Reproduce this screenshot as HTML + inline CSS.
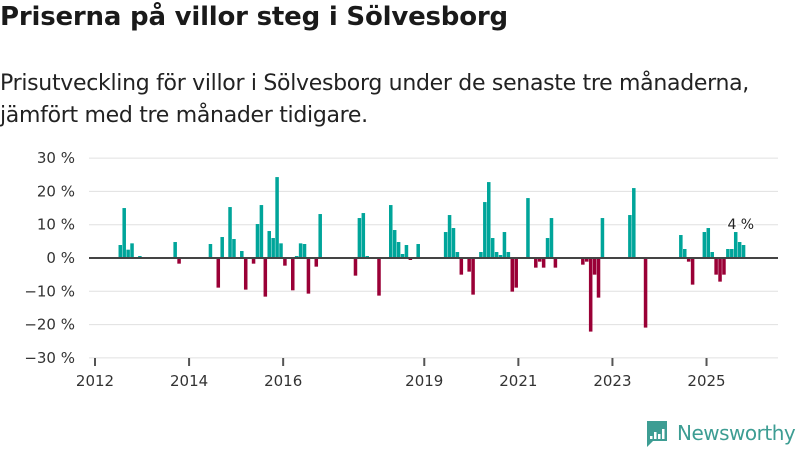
<!DOCTYPE html>
<html><head><meta charset="utf-8">
<style>
body{margin:0;width:800px;height:450px;background:#fff;font-family:"Liberation Sans","DejaVu Sans",sans-serif;overflow:hidden;position:relative}
h1{position:absolute;left:0;top:2px;margin:0;font-size:26px;font-weight:bold;color:#1a1a1a;font-family:"DejaVu Sans",sans-serif;letter-spacing:-0.2px}
.sub{position:absolute;left:0;top:68px;margin:0;font-size:22px;line-height:32px;color:#222;font-family:"DejaVu Sans",sans-serif;letter-spacing:-0.3px}
svg{position:absolute;left:0;top:0}
</style></head><body>
<h1>Priserna på villor steg i Sölvesborg</h1>
<p class="sub">Prisutveckling för villor i Sölvesborg under de senaste tre månaderna,<br>jämfört med tre månader tidigare.</p>
<svg id="chart" width="800" height="450"></svg>
<script>
const monthIdx=[6,7,8,9,11,20,21,29,31,32,34,35,37,38,40,41,42,43,44,45,46,47,48,50,51,52,53,54,56,57,66,67,68,69,72,75,76,77,78,79,80,82,89,90,91,92,93,95,96,98,99,100,101,102,103,104,105,106,107,110,112,113,114,115,116,117,124,125,126,127,128,129,136,137,140,149,150,151,152,155,156,157,158,159,160,161,162,163,164,165];
const values=[3.9,15,2.5,4.4,0.6,4.8,-1.7,4.2,-8.9,6.3,15.3,5.7,2.1,-9.5,-1.7,10.2,15.9,-11.6,8.1,6,24.3,4.4,-2.3,-9.7,0.6,4.4,4.2,-10.7,-2.6,13.2,-5.3,12,13.5,0.6,-11.3,15.9,8.4,4.8,1.2,3.9,-0.6,4.2,7.8,12.9,9,1.8,-5,-4.1,-11,1.8,16.8,22.8,6,1.8,0.9,7.8,1.8,-10.1,-8.9,18,-2.9,-1.1,-2.9,6,12,-2.9,-2,-1.1,-22.1,-5,-11.9,12,12.9,21,-20.9,6.9,2.7,-1.1,-8,7.8,9,1.8,-5,-7.1,-5,2.7,2.7,7.8,4.8,3.9];
const yTicks=[30,20,10,0,-10,-20,-30];
const yearTicks=[2012,2014,2016,2019,2021,2023,2025];
const lastLabel="4 %";

const svg=document.getElementById('chart');
const NS='http://www.w3.org/2000/svg';
const X0=95, MW=3.92, Y0=258, PX=3.33;
const x=m=>X0+m*MW;
const y=v=>Y0-v*PX;
function mk(t,a){const e=document.createElementNS(NS,t);for(const k in a)e.setAttribute(k,a[k]);svg.appendChild(e);return e;}
yTicks.forEach(v=>{
  const g=mk('line',{x1:89,x2:778,y1:y(v),y2:y(v),stroke:'#e0e0e0','stroke-width':1});
  
  
  const t=mk('text',{x:75,y:y(v)+5,'text-anchor':'end','font-size':15,fill:'#333','font-family':'DejaVu Sans, sans-serif'});
  t.textContent=(v<0?'−'+(-v):v)+' %';
  
  
});
yearTicks.forEach(yr=>{
  const xx=x((yr-2012)*12);
  const l=mk('line',{x1:xx,x2:xx,y1:358,y2:366,stroke:'#555','stroke-width':2});
  
  
  const t=mk('text',{x:xx,y:386,'text-anchor':'middle','font-size':15,fill:'#333','font-family':'DejaVu Sans, sans-serif'});
  t.textContent=yr;
  
  
});
monthIdx.forEach((m,i)=>{
  const v=values[i];
  const r=mk('rect',{x:x(m),y:Math.min(y(v),Y0),width:MW-0.4,height:Math.abs(v*PX),fill:v>=0?'#00a59a':'#9a0036'});
  
  
});
const z=mk('line',{x1:89,x2:778,y1:Y0,y2:Y0,stroke:'#444','stroke-width':2});


const li=monthIdx.length-1;
const lt=mk('text',{x:x(monthIdx[li])-1,y:y(values[li])-16,'text-anchor':'middle','font-size':14,fill:'#222','font-family':'DejaVu Sans, sans-serif',stroke:'#fff','stroke-width':3,'paint-order':'stroke'});
lt.textContent=lastLabel;


// logo
const lg=mk('g',{});


const b=document.createElementNS(NS,'path');
b.setAttribute('d','M647 421 h20 v20 h-14 l-6 6 z');b.setAttribute('fill','#3d9d93');lg.appendChild(b);
[[650,436,3],[654,432,7],[658,434,5],[662,429,10]].forEach(a=>{const r=document.createElementNS(NS,'rect');r.setAttribute('x',a[0]);r.setAttribute('y',a[1]);r.setAttribute('width',2.5);r.setAttribute('height',a[2]);r.setAttribute('fill','#fff');lg.appendChild(r);});
const nt=document.createElementNS(NS,'text');
nt.setAttribute('x',677);nt.setAttribute('y',440);nt.setAttribute('font-size',20);nt.setAttribute('fill','#3d9d93');nt.setAttribute('font-family','DejaVu Sans, sans-serif');nt.setAttribute('letter-spacing','-0.5');
nt.textContent='Newsworthy';lg.appendChild(nt);
</script>
</body></html>
